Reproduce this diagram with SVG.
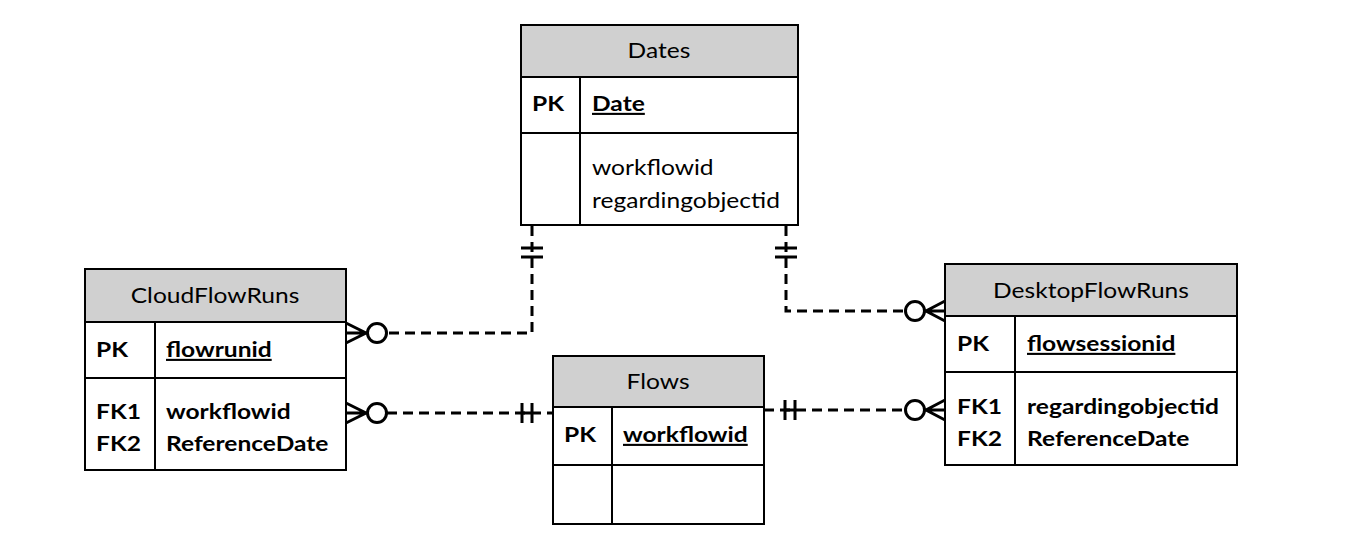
<svg xmlns="http://www.w3.org/2000/svg" width="1345" height="548" viewBox="0 0 1345 548">
<style>
.box{fill:#fff;stroke:#000;stroke-width:2}
.hdr{fill:#d0d0d0;stroke:#000;stroke-width:2}
.ln{stroke:#000;stroke-width:2;fill:none}
.t{font-family:Lato,"Liberation Sans",sans-serif;font-size:21px;fill:#000}
.h{text-anchor:middle}
.b{font-weight:bold}
.u{text-decoration:underline}
.dash{stroke:#000;stroke-width:3;fill:none;stroke-dasharray:10 6}
.sol{stroke:#000;stroke-width:3;fill:none}
.circ{stroke:#000;stroke-width:3;fill:#fff}
</style>
<rect width="1345" height="548" fill="#fff"/>
<g id="connectors">
  <path class="dash" d="M532,226 V333 H387"/>
  <path class="sol" d="M521,248 H543 M521,257 H543"/>
  <path class="sol" d="M346,323 L366,333 L346,343 M346,333 H368"/>
  <circle class="circ" cx="377" cy="333" r="9.5"/>
  <path class="dash" d="M387,413 H553"/>
  <path class="sol" d="M522,403 V423 M532,403 V423 M522,413 H532"/>
  <path class="sol" d="M346,403 L366,413 L346,423 M346,413 H368"/>
  <circle class="circ" cx="377" cy="413" r="9.5"/>
  <path class="dash" d="M764,410 H905"/>
  <path class="sol" d="M785,400 V420 M795,400 V420 M785,410 H795"/>
  <path class="sol" d="M945,400 L926,410 L945,420 M945,410 H924"/>
  <circle class="circ" cx="915" cy="410" r="9.5"/>
  <path class="dash" d="M786,226 V311 H905"/>
  <path class="sol" d="M775,248 H797 M775,257 H797"/>
  <path class="sol" d="M945,301 L926,311 L945,321 M945,311 H924"/>
  <circle class="circ" cx="915" cy="311" r="9.5"/>
</g>
<g id="dates">
  <rect class="box" x="521" y="25" width="277" height="200"/>
  <rect class="hdr" x="521" y="25" width="277" height="52"/>
  <path class="ln" d="M521,133 H798 M580,77 V225"/>
  <text class="t h" transform="translate(659,58) scale(1.17,1)">Dates</text>
  <text class="t b" transform="translate(532,111) scale(1.17,1)">PK</text>
  <text class="t b u" transform="translate(592,111) scale(1.17,1)">Date</text>
  <text class="t" transform="translate(592,175) scale(1.17,1)">workflowid</text>
  <text class="t" transform="translate(592,208) scale(1.17,1)">regardingobjectid</text>
</g>
<g id="cloudflowruns">
  <rect class="box" x="85" y="269" width="261" height="201"/>
  <rect class="hdr" x="85" y="269" width="261" height="53"/>
  <path class="ln" d="M85,378 H346 M155,322 V470"/>
  <text class="t h" transform="translate(215,303) scale(1.17,1)">CloudFlowRuns</text>
  <text class="t b" transform="translate(96,357) scale(1.17,1)">PK</text>
  <text class="t b u" transform="translate(166,357) scale(1.17,1)">flowrunid</text>
  <text class="t b" transform="translate(96,419) scale(1.17,1)">FK1</text>
  <text class="t b" transform="translate(96,451) scale(1.17,1)">FK2</text>
  <text class="t b" transform="translate(166,419) scale(1.17,1)">workflowid</text>
  <text class="t b" transform="translate(166,451) scale(1.17,1)">ReferenceDate</text>
</g>
<g id="flows">
  <rect class="box" x="553" y="356" width="211" height="168"/>
  <rect class="hdr" x="553" y="356" width="211" height="51"/>
  <path class="ln" d="M553,465 H764 M612,407 V524"/>
  <text class="t h" transform="translate(658,389) scale(1.17,1)">Flows</text>
  <text class="t b" transform="translate(564,442) scale(1.17,1)">PK</text>
  <text class="t b u" transform="translate(623,442) scale(1.17,1)">workflowid</text>
</g>
<g id="desktopflowruns">
  <rect class="box" x="945" y="264" width="292" height="201"/>
  <rect class="hdr" x="945" y="264" width="292" height="52"/>
  <path class="ln" d="M945,372 H1237 M1015,316 V465"/>
  <text class="t h" transform="translate(1091,298) scale(1.17,1)">DesktopFlowRuns</text>
  <text class="t b" transform="translate(957,351) scale(1.17,1)">PK</text>
  <text class="t b u" transform="translate(1027,351) scale(1.17,1)">flowsessionid</text>
  <text class="t b" transform="translate(957,414) scale(1.17,1)">FK1</text>
  <text class="t b" transform="translate(957,446) scale(1.17,1)">FK2</text>
  <text class="t b" transform="translate(1027,414) scale(1.17,1)">regardingobjectid</text>
  <text class="t b" transform="translate(1027,446) scale(1.17,1)">ReferenceDate</text>
</g>
</svg>
